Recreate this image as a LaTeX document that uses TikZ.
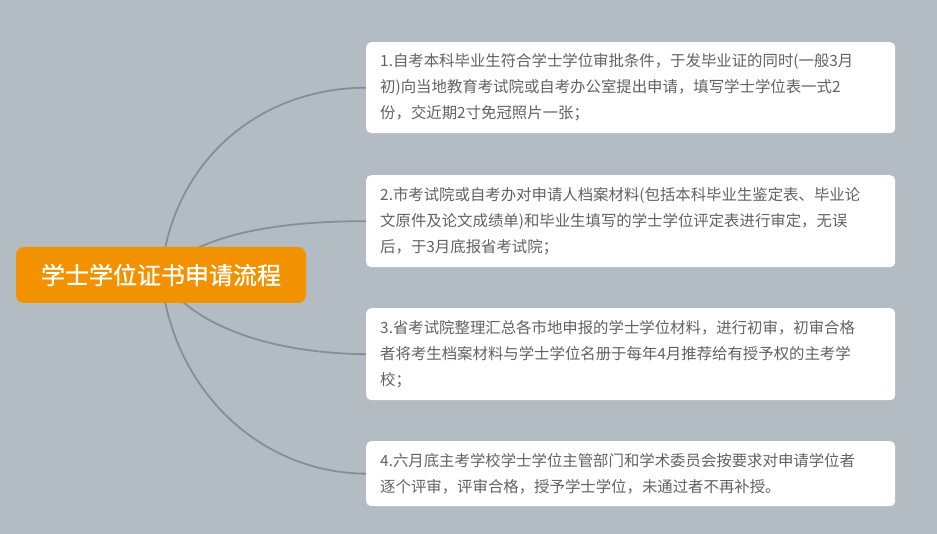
\documentclass[tikz,border=0pt]{standalone}
\usepackage{fontspec}
\newfontfamily\cjk{Noto Sans CJK SC}
\newfontfamily\cjkroot{Noto Sans CJK SC}[FakeBold=0.8]
\definecolor{bgcol}{HTML}{B3BBC3}
\definecolor{rootcol}{HTML}{F39200}
\definecolor{linkcol}{HTML}{868F98}
\definecolor{txtcol}{HTML}{626262}
\tikzset{
  rootbox/.style={fill=rootcol, rounded corners=8pt, minimum width=290pt, minimum height=56pt,
    inner sep=0pt, text=white, font={\cjkroot\fontsize{24}{26}\selectfont}},
  itembox/.style={fill=white, rounded corners=5pt, anchor=north west, minimum width=529pt,
    inner xsep=14pt, inner ysep=0pt, text width=501pt, align=left, text=txtcol,
    font={\cjk\fontsize{15.4}{26}\selectfont}},
  link/.style={draw=linkcol, line width=1.8pt}
}
\begin{document}
\begin{tikzpicture}[x=1pt,y=-1pt]
\fill[bgcol] (0,0) rectangle (937,534);
\useasboundingbox (0,0) rectangle (937,534);
\coordinate (c) at (161,275);
\node[itembox, minimum height=91pt] (b1) at (366,42) {1.自考本科毕业生符合学士学位审批条件，于发毕业证的同时(一般3月\\初)向当地教育考试院或自考办公室提出申请，填写学士学位表一式2\\份，交近期2寸免冠照片一张；};
\node[itembox, minimum height=92pt] (b2) at (366,175) {2.市考试院或自考办对申请人档案材料(包括本科毕业生鉴定表、毕业论\\文原件及论文成绩单)和毕业生填写的学士学位评定表进行审定，无误\\后，于3月底报省考试院；};
\node[itembox, minimum height=92pt] (b3) at (366,308) {3.省考试院整理汇总各市地申报的学士学位材料，进行初审，初审合格\\者将考生档案材料与学士学位名册于每年4月推荐给有授予权的主考学\\校；};
\node[itembox, minimum height=65pt] (b4) at (366,441) {4.六月底主考学校学士学位主管部门和学术委员会按要求对申请学位者\\逐个评审，评审合格，授予学士学位，未通过者不再补授。};
\draw[link] (c) .. controls (172,160) and (260,88) .. (b1.west);
\draw[link] (c) .. controls (190,240) and (260,221) .. (b2.west);
\draw[link] (c) .. controls (185,320) and (260,353) .. (b3.west);
\draw[link] (c) .. controls (172,390) and (260,473) .. (b4.west);
\node[rootbox] (root) at (c) {学士学位证书申请流程};
\end{tikzpicture}
\end{document}
